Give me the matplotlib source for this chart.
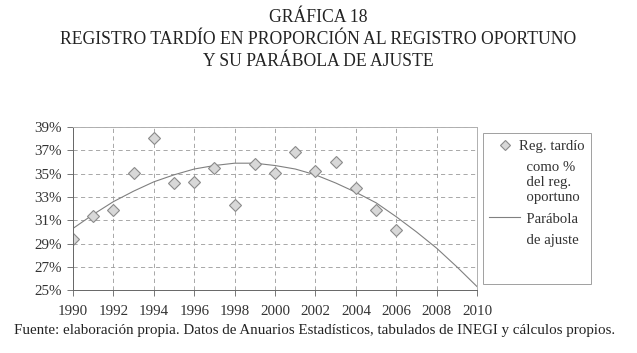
import matplotlib
matplotlib.use('Agg')
import matplotlib.pyplot as plt
from matplotlib.lines import Line2D
from matplotlib.ticker import FuncFormatter

plt.rcParams['font.family'] = ['Liberation Serif', 'DejaVu Serif']

# Data
# -------------------------------
years = [1990, 1991, 1992, 1993, 1994, 1995, 1996, 1997, 1998,
         1999, 2000, 2001, 2002, 2003, 2004, 2005, 2006]
reg_tardio = [29.4, 31.4, 31.9, 35.1, 38.1, 34.2, 34.3, 35.5, 32.3,
              35.8, 35.1, 36.9, 35.2, 36.0, 33.8, 31.9, 30.2]

curve_years = list(range(1990, 2011))
parabola = [30.3, 31.5, 32.6, 33.5, 34.3, 34.9, 35.4, 35.7, 35.9, 35.9,
            35.7, 35.4, 34.9, 34.2, 33.4, 32.5, 31.3, 30.0, 28.6, 27.0, 25.3]

x_ticks = list(range(1990, 2011, 2))
y_ticks = list(range(25, 40, 2))

title = 'GRÁFICA 18\nREGISTRO TARDÍO EN PROPORCIÓN AL REGISTRO OPORTUNO\nY SU PARÁBOLA DE AJUSTE'
source = 'Fuente: elaboración propia. Datos de Anuarios Estadísticos, tabulados de INEGI y cálculos propios.'
legend_labels = ['Reg. tardío', '  como %\n  del reg.\n  oportuno', '  Parábola', '  de ajuste', ' \n ']

# Figure
# -------------------------------
fig = plt.figure(figsize=(6.37, 3.53), dpi=100)
ax = fig.add_axes([0.1146, 0.178, 0.6344, 0.462])

line, = ax.plot(curve_years, parabola, color='#808080', lw=0.8)
pts, = ax.plot(years, reg_tardio, ls='none', marker='D', ms=6.5, mfc='#d8d8d8', mec='#8a8a8a',
               mew=0.8)

ax.set_xlim(1990, 2010)
ax.set_ylim(25, 39)
ax.set_xticks(x_ticks)
ax.set_yticks(y_ticks)
ax.yaxis.set_major_formatter(FuncFormatter(lambda v, p: '%d%%' % v))
ax.grid(True, ls=(0, (5, 4)), color='#9a9a9a', lw=0.6)
ax.tick_params(labelsize=10.8, colors='#333333', length=4, width=0.7, color='#777777')
ax.tick_params(axis='x', pad=7)
ax.tick_params(axis='y', pad=4)
for s in ax.spines.values():
    s.set_color('#b0b0b0')
    s.set_linewidth(0.7)
ax.spines['left'].set_color('#666666')
ax.spines['bottom'].set_color('#666666')

# legend: marker / line only beside the first text line of each entry
blank = Line2D([], [], ls='none', marker=None)
leg_marker = Line2D([], [], ls='none', marker='D', ms=5, mfc='#d8d8d8', mec='#8a8a8a', mew=0.8)
handles = [leg_marker, blank, line, blank, blank]
leg = fig.legend(handles, legend_labels, loc='upper left', bbox_to_anchor=(0.758, 0.623),
                 borderaxespad=0, fontsize=10.6, frameon=True, fancybox=False,
                 edgecolor='#888888', handlelength=2.1, handletextpad=-0.1,
                 labelspacing=0.55, borderpad=0.45)
leg.get_frame().set_linewidth(0.7)
for t in leg.get_texts():
    t.set_color('#333333')
    t.set_linespacing(1.2)
leg.get_texts()[-1].set_linespacing(0.6)

fig.text(0.5, 0.975, title, ha='center', va='top', fontsize=12.7, color='#222222',
         linespacing=1.38)
fig.text(0.022, 0.045, source, ha='left', va='bottom', fontsize=10.8, color='#222222')

fig.savefig('out.png', dpi=100)
